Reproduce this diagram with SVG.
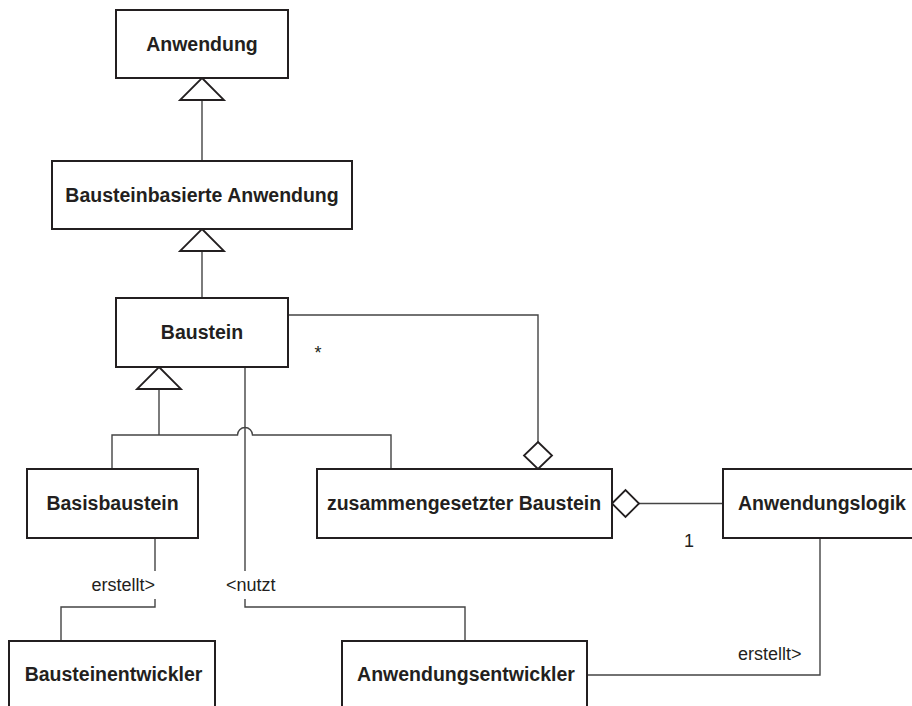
<svg xmlns="http://www.w3.org/2000/svg" width="912" height="706" viewBox="0 0 912 706">
  <style>
    .box { fill: #fff; stroke: #231f20; stroke-width: 2; }
    .name { font-family: "Liberation Sans", Arial, sans-serif; font-weight: bold; font-size: 19.5px; fill: #231f20; text-anchor: middle; }
    .lbl { font-family: "Liberation Sans", Arial, sans-serif; font-size: 18px; fill: #231f20; }
    .wire { fill: none; stroke: #444; stroke-width: 1.4; }
    .head { fill: #fff; stroke: #231f20; stroke-width: 1.8; stroke-linejoin: miter; }
  </style>
  <rect width="912" height="706" fill="#fff"/>

  <!-- connectors -->
  <g id="connectors">
    <!-- generalisations -->
    <line class="wire" x1="202" y1="100" x2="202" y2="161"/>
    <polygon class="head" points="202,78 224,100 180,100"/>
    <line class="wire" x1="202" y1="251" x2="202" y2="298"/>
    <polygon class="head" points="202,229 224,251 180,251"/>
    <path class="wire" d="M159,389 V435"/>
    <path class="wire" d="M112,469 V435 H237.5 A7.5,7.5 0 0 1 252.5,435 H391 V469"/>
    <polygon class="head" points="159,367 181,389 137,389"/>

    <!-- aggregation Baustein * to zusammengesetzter Baustein -->
    <path class="wire" d="M288,315 H538 V442"/>
    <polygon class="head" points="538,442 552,455.5 538,469 524,455.5"/>
    <text class="lbl" x="318" y="359" text-anchor="middle">*</text>

    <!-- aggregation Anwendungslogik 1 -->
    <line class="wire" x1="639" y1="503.5" x2="723" y2="503.5"/>
    <polygon class="head" points="612,503.5 625.5,490 639,503.5 625.5,517"/>
    <text class="lbl" x="689" y="547" text-anchor="middle">1</text>

    <!-- Basisbaustein / Bausteinentwickler -->
    <path class="wire" d="M155,538 V571"/>
    <path class="wire" d="M155,599 V607 H61 V641"/>
    <text class="lbl" x="155" y="591" text-anchor="end">erstellt&gt;</text>

    <!-- Baustein / Anwendungsentwickler -->
    <path class="wire" d="M245,367 V571"/>
    <path class="wire" d="M245,599 V607 H465 V641"/>
    <text class="lbl" x="226" y="591">&lt;nutzt</text>

    <!-- Anwendungslogik / Anwendungsentwickler -->
    <path class="wire" d="M820,538 V675 H587"/>
    <text class="lbl" x="738" y="660">erstellt&gt;</text>
  </g>

  <g id="anwendung">
    <rect class="box" x="116" y="10" width="172" height="68"/>
    <text class="name" x="202" y="51">Anwendung</text>
  </g>
  <g id="bausteinbasierte-anwendung">
    <rect class="box" x="52" y="161" width="300" height="68"/>
    <text class="name" x="202" y="202">Bausteinbasierte Anwendung</text>
  </g>
  <g id="baustein">
    <rect class="box" x="116" y="298" width="172" height="69"/>
    <text class="name" x="202" y="339">Baustein</text>
  </g>
  <g id="basisbaustein">
    <rect class="box" x="27" y="469" width="171" height="69"/>
    <text class="name" x="112.5" y="510">Basisbaustein</text>
  </g>
  <g id="zusammengesetzter-baustein">
    <rect class="box" x="317" y="469" width="295" height="69"/>
    <text class="name" x="464" y="510">zusammengesetzter Baustein</text>
  </g>
  <g id="anwendungslogik">
    <rect class="box" x="723" y="469" width="200" height="69"/>
    <text class="name" x="822" y="510">Anwendungslogik</text>
  </g>
  <g id="bausteinentwickler">
    <rect class="box" x="9" y="641" width="206" height="69"/>
    <text class="name" x="113.5" y="681">Bausteinentwickler</text>
  </g>
  <g id="anwendungsentwickler">
    <rect class="box" x="342" y="641" width="245" height="69"/>
    <text class="name" x="466" y="681">Anwendungsentwickler</text>
  </g>
</svg>
